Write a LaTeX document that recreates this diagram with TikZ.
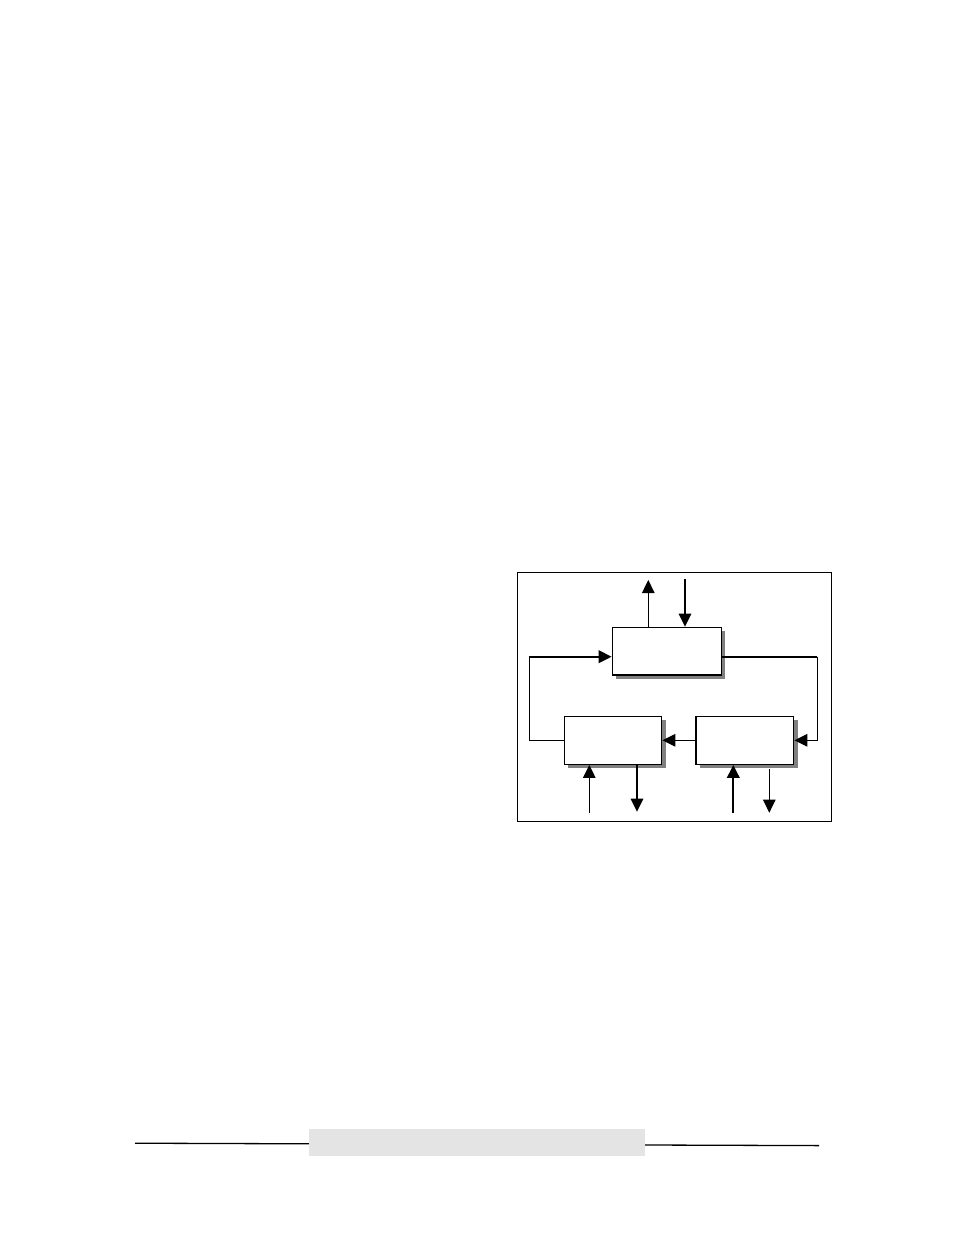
\documentclass[tikz,border=0pt]{standalone}
\usetikzlibrary{arrows.meta,shadows}
\definecolor{shadowgray}{HTML}{808080}
\definecolor{barfill}{HTML}{E4E4E4}
\begin{document}
\begin{tikzpicture}[x=1pt,y=-1pt,
  blockbox/.style={draw=black,line width=1.3pt,fill=white,rectangle,inner sep=0pt,
    general shadow={fill=shadowgray,shadow xshift=4pt,shadow yshift=-4pt}},
  thinline/.style={line width=1.2pt},
  thickline/.style={line width=2.3pt},
  tip/.style={-{Triangle[length=13pt,width=12.5pt]}}]
\useasboundingbox (0,0) rectangle (954,1235);
% frame
\node[draw,line width=1.0pt,minimum width=314pt,minimum height=249pt,inner sep=0pt] (frame) at (674,696.5) {};
% blocks
\node[blockbox,minimum width=109pt,minimum height=47.7pt] (T) at (666.8,651.2) {};
\node[blockbox,minimum width=97.4pt,minimum height=48pt] (BL) at (613,740.3) {};
\node[blockbox,minimum width=97.7pt,minimum height=48pt] (BR) at (744.85,740.3) {};
% coordinates
\coordinate (LL) at (529.3,656.7);
\coordinate (RR) at (817.3,656.7);
\coordinate (tu) at (648.3,580);
\coordinate (td) at (685,579);
\coordinate (blu) at (589.3,812.7);
\coordinate (bld) at (637,811.7);
\coordinate (bru) at (733.3,812.7);
\coordinate (brd) at (769.3,812.7);
% left loop
\draw[thinline] (BL.west) -| (LL);
\draw[thickline,tip] (LL) -- (T.west |- LL);
% right loop
\draw[thickline] (T.east |- RR) -- (RR);
\draw[thinline,tip] (RR) |- (BR.east);
% middle
\draw[thinline,tip] (BR.west) -- (BL.east);
% top arrows
\draw[thinline,tip] (T.north -| tu) -- (tu);
\draw[thinline,tip] (td) -- (T.north -| td);
% bottom arrows
\draw[thinline,tip] (blu) -- (BL.south -| blu);
\draw[thinline,tip] (BL.south -| bld) -- (bld);
\draw[thickline,tip] (bru) -- (BR.south -| bru);
\draw[thinline,tip] ([yshift=-4.5pt]BR.south -| brd) -- (brd);
% footer
\coordinate (fl) at (135,1143.2);
\coordinate (fr) at (819,1145.6);
\draw[line width=1.3pt] (fl) -- (fr);
\node[fill=barfill,minimum width=336pt,minimum height=26.7pt,inner sep=0pt] (bar) at (477,1142.35) {};
\end{tikzpicture}
\end{document}
